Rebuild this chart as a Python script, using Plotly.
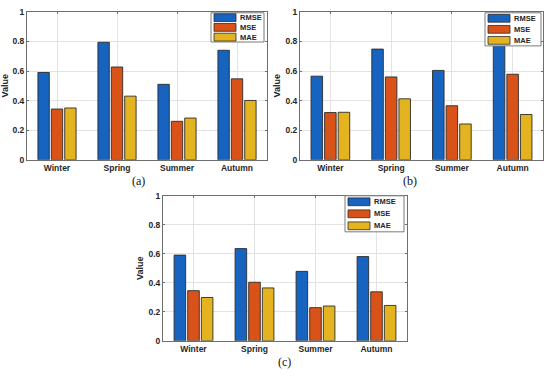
import plotly.graph_objects as go

W, H = 550, 377

seasons = ["Winter", "Spring", "Summer", "Autumn"]
metrics = ["RMSE", "MSE", "MAE"]

# panel (a)
a_rmse = [0.590, 0.794, 0.510, 0.740]
a_mse = [0.343, 0.627, 0.260, 0.547]
a_mae = [0.350, 0.430, 0.282, 0.401]
# panel (b)
b_rmse = [0.565, 0.748, 0.604, 0.780]
b_mse = [0.319, 0.560, 0.365, 0.578]
b_mae = [0.321, 0.412, 0.242, 0.306]
# panel (c)
c_rmse = [0.591, 0.636, 0.479, 0.581]
c_mse = [0.346, 0.404, 0.229, 0.338]
c_mae = [0.299, 0.365, 0.240, 0.244]

y_ticks = [0, 0.2, 0.4, 0.6, 0.8, 1]
y_ticktext = ["0", "0.2", "0.4", "0.6", "0.8", "1"]
panel_labels = ["(a)", "(b)", "(c)"]

colors = ["#1764C0", "#D95319", "#E3B420"]
edge = "#2b2b2b"
FONT = "Liberation Sans"

# axis boxes in pixels (x0, x1, y0, y1)
boxes = [(27, 267, 7, 159), (300, 543, 7, 159), (163, 407, 196, 345)]
legend_boxes = [(211, 264, 8, 38), (485, 541, 8, 42), (345, 404, 196, 233)]
label_pos = [(138, 181), (410, 181), (284, 367)]

def px(x):
    return x / W

def py(y):
    return 1 - y / H

panels = [(a_rmse, a_mse, a_mae), (b_rmse, b_mse, b_mae), (c_rmse, c_mse, c_mae)]

fig = go.Figure()
for p, vals in enumerate(panels):
    sfx = "" if p == 0 else str(p + 1)
    for m, v in enumerate(vals):
        fig.add_trace(go.Bar(
            x=seasons, y=v, name=metrics[m], showlegend=False,
            marker=dict(color=colors[m], line=dict(color=edge, width=0.9)),
            xaxis="x" + sfx, yaxis="y" + sfx,
        ))

layout = dict(
    width=W, height=H, margin=dict(l=0, r=0, t=0, b=0),
    paper_bgcolor="white", plot_bgcolor="white",
    barmode="group", bargap=0.33, bargroupgap=0.15,
    showlegend=False,
    font=dict(family=FONT, color="#262626"),
)
tick_font = dict(size=8.5, family=FONT, weight="bold", color="#262626")
shapes = []
annotations = []
for p, (x0, x1, y0, y1) in enumerate(boxes):
    sfx = "" if p == 0 else str(p + 1)
    layout["xaxis" + sfx] = dict(
        domain=[px(x0), px(x1)], anchor="y" + sfx, type="category",
        showline=True, mirror="ticks", linecolor="#6e6e6e", linewidth=1,
        showgrid=True, gridcolor="#e3e3e3", gridwidth=1,
        ticks="inside", ticklen=2, tickcolor="#6e6e6e",
        tickfont=tick_font, fixedrange=True,
    )
    layout["yaxis" + sfx] = dict(
        domain=[py(y1), py(y0)], anchor="x" + sfx, range=[0, 1],
        tickvals=y_ticks, ticktext=y_ticktext,
        showline=True, mirror="ticks", linecolor="#6e6e6e", linewidth=1,
        showgrid=True, gridcolor="#e3e3e3", gridwidth=1, zeroline=False,
        ticks="inside", ticklen=2, tickcolor="#6e6e6e",
        tickfont=tick_font,
        title=dict(text="Value", standoff=3,
                   font=dict(size=9, family=FONT, weight="bold", color="#262626")),
        fixedrange=True,
    )
    # legend box
    lx0, lx1, ly0, ly1 = legend_boxes[p]
    shapes.append(dict(type="rect", xref="paper", yref="paper",
                       x0=px(lx0), x1=px(lx1), y0=py(ly1), y1=py(ly0),
                       line=dict(color="#7a7a7a", width=1), fillcolor="white",
                       layer="above"))
    hgt = ly1 - ly0
    sw = 22
    for m, name in enumerate(metrics):
        cy = ly0 + hgt * (2 * m + 1) / 6
        shapes.append(dict(type="rect", xref="paper", yref="paper",
                           x0=px(lx0 + 3), x1=px(lx0 + 3 + sw),
                           y0=py(cy + 4), y1=py(cy - 4),
                           line=dict(color=edge, width=0.8), fillcolor=colors[m],
                           layer="above"))
        annotations.append(dict(xref="paper", yref="paper",
                                x=px(lx0 + 3 + sw + 2), y=py(cy),
                                xanchor="left", yanchor="middle", showarrow=False,
                                text=name,
                                font=dict(size=7.5, family=FONT, weight="bold", color="#262626")))
    lxp, lyp = label_pos[p]
    annotations.append(dict(xref="paper", yref="paper", x=px(lxp), y=py(lyp),
                            xanchor="center", yanchor="middle", showarrow=False,
                            text=panel_labels[p],
                            font=dict(size=12, family="Liberation Serif", color="#111")))

layout["shapes"] = shapes
layout["annotations"] = annotations
fig.update_layout(**layout)
fig.write_html("out.html", config={"displayModeBar": False, "staticPlot": True},
               post_script="document.body.style.margin='0';")
